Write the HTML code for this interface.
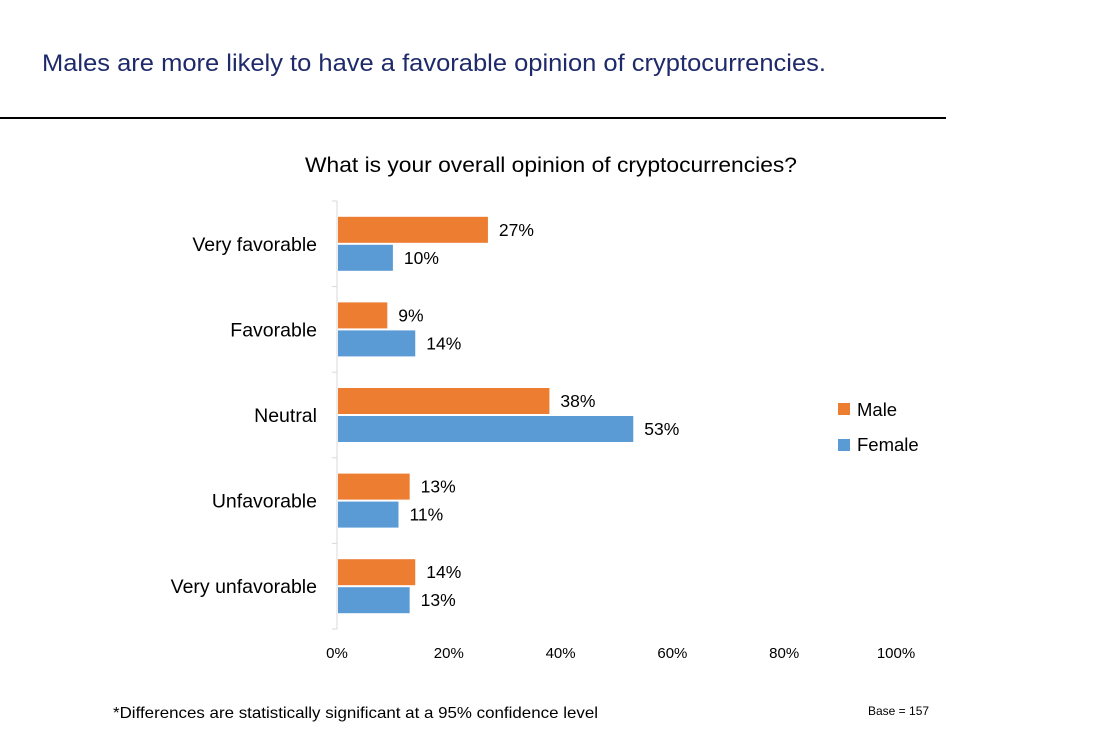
<!DOCTYPE html>
<html><head><meta charset="utf-8"><style>
body{margin:0;width:1108px;height:728px;background:#fff;overflow:hidden;font-family:"Liberation Sans",sans-serif}
</style></head><body>
<svg width="1108" height="728" xmlns="http://www.w3.org/2000/svg" font-family="Liberation Sans, sans-serif">
<text x="42" y="71" font-size="24" fill="#1f2a6b" textLength="784" lengthAdjust="spacingAndGlyphs">Males are more likely to have a favorable opinion of cryptocurrencies.</text>
<line x1="0" y1="118" x2="946" y2="118" stroke="#000" stroke-width="2"/>
<text x="305" y="172" font-size="21" textLength="492" lengthAdjust="spacingAndGlyphs" fill="#000">What is your overall opinion of cryptocurrencies?</text>
<g id="plot"></g>
<rect x="838" y="403" width="12" height="12" fill="#ed7d31"/>
<text x="857" y="416" font-size="18.5">Male</text>
<rect x="838" y="439" width="12" height="12" fill="#5b9bd5"/>
<text x="857" y="451" font-size="18.5">Female</text>
<text x="113" y="718" font-size="16" textLength="485" lengthAdjust="spacingAndGlyphs">*Differences are statistically significant at a 95% confidence level</text>
<text x="868" y="715" font-size="12">Base = 157</text>
</svg>
<script>
const categories=["Very favorable","Favorable","Neutral","Unfavorable","Very unfavorable"];
const male=[27,9,38,13,14];
const female=[10,14,53,11,13];
const ticks=[0,20,40,60,80,100];
const NS="http://www.w3.org/2000/svg";
const g=document.getElementById('plot');
const x0=337,x1=896,yTop=201,yBot=629;
const xs=v=>x0+(x1-x0)*v/100;
const band=(yBot-yTop)/categories.length;
function el(t,a,txt){const e=document.createElementNS(NS,t);for(const k in a)e.setAttribute(k,a[k]);if(txt!==undefined)e.textContent=txt;g.appendChild(e);return e;}
const ax=el('line',{x1:x0,y1:yTop,x2:x0,y2:yBot,stroke:'#d9d9d9','stroke-width':1});


for(let i=0;i<=categories.length;i++){const y=yTop+band*i;const t=el('line',{x1:x0-5,y1:y,x2:x0,y2:y,stroke:'#d9d9d9'});

}
categories.forEach((c,i)=>{
 const cy=yTop+band*i+band/2;
 const l=el('text',{x:317,y:cy+7,'font-size':19.5,'text-anchor':'end'},c);
 
 
 const h=26;
 [[male,'#ed7d31',cy-h-1,'male'],[female,'#5b9bd5',cy+1,'female']].forEach(([s,col,y,n])=>{
  const r=el('rect',{x:x0+1,y:y,width:xs(s[i])-x0-1,height:h,fill:col});
  
  
  const v=el('text',{x:xs(s[i])+11,y:y+h/2+6,'font-size':17.5},s[i]+'%');
  
  
 });
});
ticks.forEach(t=>{const e=el('text',{x:xs(t),y:658,'font-size':15,'text-anchor':'middle'},t+'%');

});
</script>
</body></html>
